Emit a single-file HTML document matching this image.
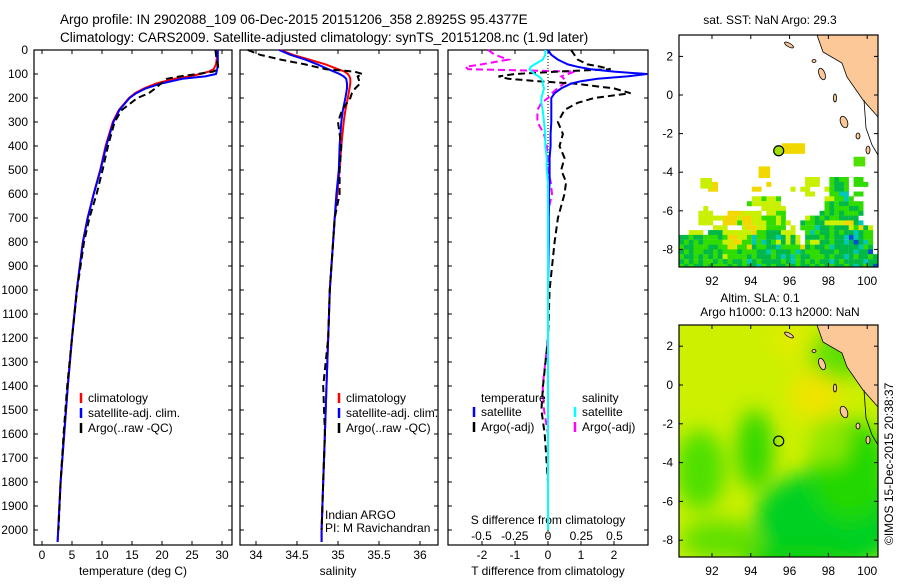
<!DOCTYPE html>
<html><head><meta charset="utf-8">
<style>
html,body{margin:0;padding:0;background:#fff;}
svg text{font-family:"Liberation Sans",sans-serif;font-size:12px;fill:#000;}
</style></head>
<body>
<svg id="s" width="900" height="580" xmlns="http://www.w3.org/2000/svg">
<text x="60" y="24" style="font-size:13.5px">Argo profile: IN 2902088_109 06-Dec-2015 20151206_358 2.8925S 95.4377E</text>
<text x="60" y="42" style="font-size:13.5px">Climatology: CARS2009. Satellite-adjusted climatology: synTS_20151208.nc (1.9d later)</text>
<text transform="translate(893,545) rotate(-90)">©IMOS 15-Dec-2015 20:38:37</text>
<g id="g"></g>
</svg>
<script>
// ---------- data ----------
const depths=[0,20,40,60,80,90,100,110,120,140,160,180,200,250,300,400,500,600,700,800,1000,1200,1400,1600,1800,2000,2050];
const climT=[29.2,29.2,29.1,29.0,28.6,27.8,26.4,24.5,22,19,17,15.5,14.5,12.8,11.8,10.6,9.7,8.6,7.6,6.8,5.8,5.0,4.3,3.7,3.1,2.7,2.6];
const satT=[29.3,29.3,29.3,29.3,29.2,29.1,29.0,27.2,23.4,19.8,17.3,15.7,14.6,12.9,11.9,10.7,9.75,8.62,7.62,6.82,5.8,5.0,4.3,3.7,3.1,2.7,2.6];
const argoT=[28.9,29.0,29.1,29.3,29.4,28.5,25.9,23.0,20.8,19.8,18.9,17.8,15.9,13.3,12.1,11.0,10.1,9.1,7.9,7.0,5.85,5.0,4.2,3.6,3.1,2.75];
const climS=[34.3,34.45,34.65,34.85,35.0,35.08,35.12,35.14,35.15,35.15,35.14,35.13,35.12,35.09,35.07,35.04,35.02,34.99,34.96,34.94,34.9,34.88,34.86,34.84,34.82,34.8,34.8];
const satS=[34.28,34.42,34.6,34.75,34.88,34.95,35.02,35.07,35.1,35.11,35.11,35.1,35.09,35.06,35.04,35.02,35.01,34.98,34.96,34.94,34.9,34.88,34.86,34.84,34.82,34.8,34.8];
const argoS=[33.9,34.05,34.3,34.6,34.85,35.2,35.3,35.24,35.25,35.27,35.21,35.17,35.15,35.05,35.0,35.04,35.02,35.02,34.96,34.94,34.9,34.88,34.82,34.84,34.82,34.8];
const dDepths=[0,20,40,60,70,80,90,100,110,120,130,140,160,180,200,220,250,300,350,400,450,500,550,600,650,700,800,1000,1200,1400,1500,1600,1800,2000];
const dTsat=[0,0.1,0.3,0.6,0.9,1.3,2.0,3.0,2.4,1.5,1.0,0.7,0.4,0.2,0.1,0.1,0.1,0.1,0.08,0.08,0.05,0.05,0.05,0.03,0.03,0.02,0.02,0,0,0,0,0,0,0];
const dTargo=[0.7,0.8,0.9,1.2,1.6,1.9,0.3,-1.0,-1.5,-1.2,-0.3,0.8,2.0,2.5,1.4,0.9,0.5,0.3,0.45,0.35,0.5,0.4,0.55,0.5,0.4,0.3,0.2,0.05,0,-0.15,-0.2,-0.1,0,0];
const dSsat=[-0.02,-0.02,-0.04,-0.1,-0.13,-0.14,-0.12,-0.1,-0.07,-0.05,-0.04,-0.04,-0.03,-0.04,-0.05,-0.05,-0.04,-0.03,-0.02,-0.02,-0.01,-0.01,0,0,0,0,0,0,0,0,0,0,0,0];
const dSargo=[-0.45,-0.4,-0.3,-0.5,-0.62,-0.6,0.2,0.15,0.1,0.12,0.14,0.12,0.07,0.03,0,-0.05,-0.08,-0.08,-0.03,-0.01,0,0,0.02,0.03,0.01,0,0,0,0,-0.04,-0.03,0,0,0];
const depthTicks=[0,100,200,300,400,500,600,700,800,900,1000,1100,1200,1300,1400,1500,1600,1700,1800,1900,2000];
const tTicks=[0,5,10,15,20,25,30];
const sTicks=[34,34.5,35,35.5,36];
const sTickLabels=["34","34.5","35","35.5","36"];
const dtTicks=[-2,-1,0,1,2];
const dsTicks=[-0.5,-0.25,0,0.25,0.5];
const latTicks=[2,0,-2,-4,-6,-8];
const lonTicks=[92,94,96,98,100];
const floatLon=95.44, floatLat=-2.89;
// SST grid: rows from lat -4.25 southward, 0.25 deg, columns from lon 90.3 eastward 0.25 deg
const sstRows=[
"..........................lll..gGgg.gg...",
"......yy..........y.......lll..gGGg.ggg..",
"......yy.......yy......l.ll...lgGGg......",
"..........................ll...ggcc.gg...",
"...............llgllg.........llggcg.....",
"..............gllllll.........gGgGGggg...",
".....l...........lllll........gGgggGGg...",
"....lll...yyyllll.llgg.......GgGgGgggG...",
"....lllllyyylyyllggglg....lgGgGggGGGG...",
"....lll..yyygyylllgglgl..GggGGllllyyGc...",
".......lll...lyyllgggg.l.gggcGGgGGGlgyGl.",
"..lll.GGGllllllyggGGGlll..gcgGGgGgGGcGgg.",
"GGgGGgggGgyyllgcggGGcGlGl.GGGgGgGGcbcGgg.",
"GgGgGggggllyyggcgcGglGlGl.gllGGgGGcGbGcg.",
"gGGgggGGggylggyGggGGcggggyGgGGgcGGGGGcgG.",
"GgGggGGgGgggGgggGGcgGGGgcGgggGGGgGGGcGGb.",
"gGGgGgGgGlggggGgGGGgGcGcgGGgggGgGGcGgGGgG",
"GgGgGggGgGgGGgcGgGGGGgGcgGgGgGGcGgGGGGcGG",
"gGgGGgGgggGgGgGGcgGgGGgGgGGgGgGgGGgGcGgGb"];
const sstColors={y:"#f2d800",l:"#c8f000",g:"#30dc00",G:"#00b848",c:"#00c8b4",b:"#0050d0"};
// ---------- scales ----------
const yD=d=>50+d*0.24;
const xT=v=>42+v*6;
const xS=v=>256+(v-34)*82;
const xDT=v=>548+v*33;
const xDS=v=>548+v*133;
const lonX1=l=>679+(l-90.3)*19.4;
const latY1=l=>95-l*19.3;
const latY2=l=>385-l*19.4;
const NS="http://www.w3.org/2000/svg";
const G=document.getElementById('g');
function el(tag,attrs,parent){const e=document.createElementNS(NS,tag);for(const k in attrs)e.setAttribute(k,attrs[k]);(parent||G).appendChild(e);return e;}
function txt(x,y,s,anchor,parent){const t=el('text',{x:x,y:y,'text-anchor':anchor||'start'},parent);t.textContent=s;return t;}
function line(xs,ys,xf,col,dash,w,name){
  let p='';for(let i=0;i<xs.length;i++){p+=(i?'L':'M')+xf(xs[i]).toFixed(1)+','+yD(ys[i]).toFixed(1);}
  const e=el('path',{d:p,fill:'none',stroke:col,'stroke-width':w||2,'stroke-dasharray':dash||'none'});
  
  
  return e;
}
function frame(x0,x1,name){
  const r=el('rect',{x:x0,y:50,width:x1-x0,height:495,fill:'none',stroke:'#000','stroke-width':1.2});
  
  
  depthTicks.forEach(d=>{el('line',{x1:x0,x2:x0+4,y1:yD(d),y2:yD(d),stroke:'#000'});el('line',{x1:x1,x2:x1-4,y1:yD(d),y2:yD(d),stroke:'#000'});});
}
// panel 1
frame(34,232,'temperature-panel');
depthTicks.forEach(d=>{const t=txt(28,yD(d)+4,String(d),'end');});
tTicks.forEach(v=>{el('line',{x1:xT(v),x2:xT(v),y1:545,y2:541,stroke:'#000'});el('line',{x1:xT(v),x2:xT(v),y1:50,y2:54,stroke:'#000'});const t=txt(xT(v),559,String(v),'middle');});
{const t=txt(133,575,'temperature (deg C)','middle');}
line(climT,depths,xT,'#f00',null,2,'temperature-climatology-line');
line(satT,depths,xT,'#00f',null,2,'temperature-satellite-line');
line(argoT,depths.slice(0,argoT.length),xT,'#000','7,4',2,'temperature-argo-line');
// panel 2
frame(240,438,'salinity-panel');
sTicks.forEach((v,i)=>{el('line',{x1:xS(v),x2:xS(v),y1:545,y2:541,stroke:'#000'});el('line',{x1:xS(v),x2:xS(v),y1:50,y2:54,stroke:'#000'});const t=txt(xS(v),559,sTickLabels[i],'middle');});
{const t=txt(338,575,'salinity','middle');}
line(climS,depths,xS,'#f00',null,2,'salinity-climatology-line');
line(satS,depths,xS,'#00f',null,2,'salinity-satellite-line');
line(argoS,depths.slice(0,argoS.length),xS,'#000','7,4',2,'salinity-argo-line');
// legends
function legend(x,y,items,name){const g=el('g',{});
  items.forEach((it,i)=>{el('line',{x1:x,x2:x,y1:y+i*15-9,y2:y+i*15+1,stroke:it[1],'stroke-width':2.5},g);txt(x+7,y+i*15,it[0],'start',g);});}
legend(81,402,[['climatology','#f00'],['satellite-adj. clim.','#00f'],['Argo(..raw -QC)','#000']],'temperature-legend');
legend(339,402,[['climatology','#f00'],['satellite-adj. clim.','#00f'],['Argo(..raw -QC)','#000']],'salinity-legend');
txt(325,519,'Indian ARGO');txt(325,532,'PI: M Ravichandran');
// panel 3
frame(448,648,'difference-panel');
el('line',{x1:548,x2:548,y1:50,y2:545,stroke:'#000','stroke-dasharray':'1,2'});
dtTicks.forEach(v=>{el('line',{x1:xDT(v),x2:xDT(v),y1:545,y2:541,stroke:'#000'});el('line',{x1:xDT(v),x2:xDT(v),y1:50,y2:54,stroke:'#000'});const t=txt(xDT(v),559,String(v),'middle');});
dsTicks.forEach(v=>{const t=txt(xDS(v),540,String(v),'middle');});
txt(548,524,'S difference from climatology','middle');
{const t=txt(548,575,'T difference from climatology','middle');}
line(dSargo,dDepths,xDS,'#f0f','7,4',2,'salinity-diff-argo-line');
line(dTargo,dDepths,xDT,'#000','7,4',2,'temperature-diff-argo-line');
line(dTsat,dDepths,xDT,'#00f',null,2,'temperature-diff-satellite-line');
line(dSsat,dDepths,xDS,'#0ff',null,2,'salinity-diff-satellite-line');
txt(481,402,'temperature');txt(582,402,'salinity');
legend(474,416,[['satellite','#00f'],['Argo(-adj)','#000']],'t-diff-legend');
legend(575,416,[['satellite','#0ff'],['Argo(-adj)','#f0f']],'s-diff-legend');
// maps
function land(dy,g){
  const pts=[[817,35],[823,52],[842,63],[847,77],[863,100],[878,117],[878,35]].map(p=>p[0]+','+(p[1]+dy)).join(' ');
  el('polygon',{points:pts,fill:'#fcc898',stroke:'#000','stroke-width':0.8},g);
  [[789,45,5,1.8,30],[822,74,3,6,-20],[835,98,1.5,4,0],[844,122,3.5,6,-20],[858,136,2,3,0],[868,150,2,4,0],[814,61,2,1.5,0]].forEach(e=>el('ellipse',{cx:e[0],cy:e[1]+dy,rx:e[2],ry:e[3],transform:`rotate(${e[4]} ${e[0]} ${e[1]+dy})`,fill:'#fcc898',stroke:'#000','stroke-width':0.8},g));
  el('polyline',{points:`864,${100+dy} 866,${128+dy} 872,${145+dy} 878,${155+dy}`,fill:'none',stroke:'#000','stroke-width':0.8},g);
}
function mapAxes(y0,latY,g){
  el('rect',{x:679,y:y0,width:199,height:232,fill:'none',stroke:'#000','stroke-width':1.2},g);
  latTicks.forEach(l=>{el('line',{x1:679,x2:683,y1:latY(l),y2:latY(l),stroke:'#000'},g);el('line',{x1:878,x2:874,y1:latY(l),y2:latY(l),stroke:'#000'},g);txt(673,latY(l)+4,String(l),'end',g);});
  lonTicks.forEach(l=>{el('line',{x1:lonX1(l),x2:lonX1(l),y1:y0+232,y2:y0+228,stroke:'#000'},g);el('line',{x1:lonX1(l),x2:lonX1(l),y1:y0,y2:y0+4,stroke:'#000'},g);txt(lonX1(l),y0+250,String(l),'middle',g);});
}
const m1=el('g',{});
const defs1=el('defs',{},m1);el('clipPath',{id:'cp1'},defs1);el('rect',{x:679,y:35,width:199,height:232},document.getElementById('cp1'));
const cells=el('g',{'clip-path':'url(#cp1)'},m1);
sstRows.forEach((row,r)=>{for(let c=0;c<row.length;c++){const ch=row[c];if(ch==='.')continue;
  const x=lonX1(90.3+c*0.25),y=latY1(-4.25-r*0.25);
  const cell=el('rect',{x:x.toFixed(1),y:y.toFixed(1),width:5,height:5,fill:sstColors[ch]},cells);
  
  }});
el('rect',{x:lonX1(95.6),y:latY1(-2.5),width:lonX1(96.8)-lonX1(95.6),height:19.3*0.55,fill:'#f2d800'},m1);
el('rect',{x:lonX1(94.4),y:latY1(-3.7),width:lonX1(95.0)-lonX1(94.4),height:19.3*0.6,fill:'#f2d800'},m1);
el('rect',{x:lonX1(91.4),y:latY1(-4.3),width:lonX1(92.0)-lonX1(91.4),height:19.3*0.55,fill:'#c8f000'},m1);
el('rect',{x:lonX1(99.3),y:latY1(-3.2),width:lonX1(99.9)-lonX1(99.3),height:19.3*0.5,fill:'#50e000'},m1);
land(0,m1);
mapAxes(35,latY1,m1);
el('circle',{cx:lonX1(floatLon),cy:latY1(floatLat),r:5,fill:'#a0e000',stroke:'#000','stroke-width':1.2},m1);
txt(770,24,'sat. SST: NaN Argo: 29.3','middle',m1);
const m2=el('g',{});
const defs=el('defs',{},m2);const f=el('filter',{id:'bl',x:'-50%',y:'-50%',width:'200%',height:'200%'},defs);el('feGaussianBlur',{stdDeviation:10},f);
el('clipPath',{id:'cp'},defs);el('rect',{x:679,y:325,width:199,height:232},document.getElementById('cp'));
const bg=el('g',{'clip-path':'url(#cp)'},m2);
el('rect',{x:679,y:325,width:199,height:232,fill:'#ccf000'},bg);
const blobs=el('g',{filter:'url(#bl)'},bg);
[[830,520,75,50,'#00d020'],[850,470,40,50,'#20d800'],[700,470,25,40,'#50e000'],[755,450,18,40,'#30d800'],[720,540,40,20,'#60e000'],[815,395,25,25,'#f0e400'],[790,340,20,20,'#e0ec00'],[840,355,30,25,'#60e000'],[830,440,20,25,'#90e800'],[800,560,60,15,'#10d010']].forEach(b=>el('ellipse',{cx:b[0],cy:b[1],rx:b[2],ry:b[3],fill:b[4]},blobs));
land(290,m2);
mapAxes(325,latY2,m2);
el('circle',{cx:lonX1(floatLon),cy:latY2(floatLat),r:5,fill:'none',stroke:'#000','stroke-width':1.2},m2);
txt(760,302,'Altim. SLA: 0.1','middle',m2);
txt(780,316,'Argo h1000: 0.13 h2000: NaN','middle',m2);
</script>
</body></html>
